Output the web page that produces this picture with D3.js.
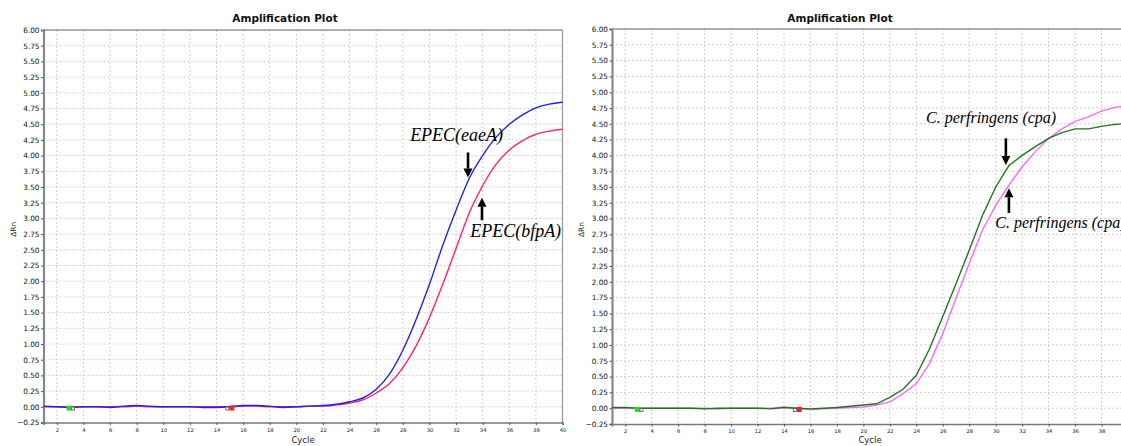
<!DOCTYPE html>
<html>
<head>
<meta charset="utf-8">
<script src="https://cdn.jsdelivr.net/npm/d3@7"></script>
<style>
  body { margin: 0; background: #fff; }
  svg { display: block; }
  .tick text { font-family: "DejaVu Sans", sans-serif; fill: #111; }
</style>
</head>
<body>
<script>
// cycles 1..40
const cycles = d3.range(1, 41)
const yTicks = d3.range(-0.25, 6.001, 0.25)
const xTicks = d3.range(2, 41, 2)

// left plot: EPEC
const eaeA = [0.01, 0.00, -0.01, 0.00, 0.00, -0.01, 0.01, 0.02, 0.01, 0.00,
  0.00, 0.00, -0.01, -0.01, 0.00, 0.02, 0.02, 0.01, -0.01, 0.00,
  0.01, 0.02, 0.04, 0.08, 0.14, 0.28, 0.52, 0.90, 1.39, 1.95,
  2.57, 3.13, 3.64, 4.00, 4.29, 4.50, 4.65, 4.76, 4.82, 4.85]
const bfpA = [0.00, 0.00, 0.00, 0.00, 0.00, 0.00, 0.00, 0.01, 0.00, 0.00,
  0.00, 0.00, 0.00, 0.00, 0.00, 0.01, 0.01, 0.00, 0.00, 0.00,
  0.01, 0.01, 0.03, 0.06, 0.11, 0.22, 0.37, 0.62, 0.97, 1.42,
  1.95, 2.52, 3.09, 3.52, 3.86, 4.09, 4.24, 4.34, 4.39, 4.42]

// right plot: C. perfringens
const cpaA = [0.01, 0.01, 0.00, 0.00, 0.00, 0.00, 0.00, -0.01, 0.00, 0.00,
  0.00, 0.00, -0.01, 0.01, 0.00, -0.01, 0.00, 0.01, 0.03, 0.05,
  0.07, 0.17, 0.30, 0.52, 0.94, 1.45, 1.97, 2.50, 3.05, 3.50,
  3.84, 4.00, 4.14, 4.27, 4.36, 4.42, 4.42, 4.46, 4.49, 4.51]
const cpaB = [0.00, 0.00, 0.00, 0.00, 0.00, 0.00, 0.00, 0.00, -0.01, 0.00,
  0.00, 0.00, 0.00, 0.02, 0.00, -0.02, -0.01, 0.00, 0.01, 0.02,
  0.05, 0.10, 0.23, 0.39, 0.71, 1.18, 1.74, 2.29, 2.82, 3.21,
  3.53, 3.82, 4.06, 4.27, 4.42, 4.54, 4.61, 4.70, 4.76, 4.78]

// baseline start / end cycles
const baseline = [3, 15]

const W = 1121, H = 446

const svg = d3.select("body").append("svg")
  .attr("width", W)
  .attr("height", H)

function arrow(g, x, y0, y1) {
  // y1 = tip
  const dir = y1 > y0 ? 1 : -1
  const head = 9
  g.append("line")
    .attr("x1", x).attr("x2", x)
    .attr("y1", y0).attr("y2", y1 - dir * head)
    .attr("stroke", "#000")
    .attr("stroke-width", 2.6)
  g.append("path")
    .attr("d", `M${x - 4.5},${y1 - dir * head} L${x + 4.5},${y1 - dir * head} L${x},${y1} Z`)
    .attr("fill", "#000")
}

function drawPanel(p) {
  const g = svg.append("g")
  const x = d3.scaleLinear().domain([1, 40]).range([p.left, p.right])
  const y = d3.scaleLinear().domain([-0.25, 6]).range([p.bottom, p.top])

  // grid
  g.append("g")
    .selectAll("line.gy")
    .data(yTicks.slice(1))
    .join("line")
    .attr("x1", p.left).attr("x2", p.right)
    .attr("y1", d => y(d)).attr("y2", d => y(d))
    .attr("stroke", "#cfcfcf")
    .attr("stroke-dasharray", "2,2")
  g.append("g")
    .selectAll("line.gx")
    .data(xTicks)
    .join("line")
    .attr("x1", d => x(d)).attr("x2", d => x(d))
    .attr("y1", p.top).attr("y2", p.bottom)
    .attr("stroke", "#cfcfcf")
    .attr("stroke-dasharray", "2,2")

  // frame
  g.append("line")
    .attr("x1", p.left).attr("x2", p.right)
    .attr("y1", p.top).attr("y2", p.top)
    .attr("stroke", "#999").attr("stroke-width", 1.3)
  g.append("line")
    .attr("x1", p.right).attr("x2", p.right)
    .attr("y1", p.top).attr("y2", p.bottom)
    .attr("stroke", "#999").attr("stroke-width", 1.3)

  // axes
  const ya = g.append("g")
    .attr("transform", `translate(${p.left},0)`)
    .call(d3.axisLeft(y).tickValues(yTicks).tickFormat(d3.format(".2f")).tickSize(2.5).tickPadding(1.5))
  ya.select(".domain").attr("stroke", "#888").attr("stroke-width", 2.2)
  ya.selectAll(".tick line").attr("stroke", "#555")
  ya.selectAll(".tick text").attr("font-size", 7.3)

  const xa = g.append("g")
    .attr("transform", `translate(0,${p.bottom})`)
    .call(d3.axisBottom(x).tickValues(xTicks).tickSize(2.5).tickPadding(3))
  xa.select(".domain").attr("stroke", "#777").attr("stroke-width", 1.6)
  xa.selectAll(".tick line").attr("stroke", "#555")
  xa.selectAll(".tick text").attr("font-size", 5.2)

  // labels
  g.append("text")
    .attr("x", p.titleX).attr("y", 22)
    .attr("text-anchor", "middle")
    .attr("font-family", "DejaVu Sans, sans-serif")
    .attr("font-weight", "bold")
    .attr("font-size", 10.5)
    .attr("fill", "#111")
    .text("Amplification Plot")
  g.append("text")
    .attr("x", (p.left + p.right) / 2).attr("y", 443)
    .attr("text-anchor", "middle")
    .attr("font-family", "DejaVu Sans, sans-serif")
    .attr("font-size", 8.5)
    .attr("fill", "#222")
    .text("Cycle")
  g.append("text")
    .attr("transform", `translate(${p.left - 28},${(p.top + p.bottom) / 2 + 3}) rotate(-90)`)
    .attr("text-anchor", "middle")
    .attr("font-family", "DejaVu Sans, sans-serif")
    .attr("font-size", 7.5)
    .attr("fill", "#222")
    .text("ΔRn")

  // curves
  const line = d3.line()
    .x((d, i) => x(cycles[i]))
    .y(d => y(d))
    .curve(p.curve)
  p.series.forEach(s => {
    g.append("path")
      .datum(s.values)
      .attr("fill", "none")
      .attr("stroke", s.color)
      .attr("stroke-width", 1.4)
      .attr("d", line)
  })

  // baseline markers
  const my = y(-0.02)
  g.append("rect")
    .attr("x", x(baseline[0]) - 3.5).attr("y", my - 2.5)
    .attr("width", 5).attr("height", 5)
    .attr("fill", "#22dd22")
  g.append("rect")
    .attr("x", x(baseline[0]) + 1.5).attr("y", my - 1)
    .attr("width", 3).attr("height", 3)
    .attr("fill", "#fff").attr("stroke", "#555").attr("stroke-width", 0.8)
  g.append("rect")
    .attr("x", x(baseline[1]) - 0.5).attr("y", my - 2.5)
    .attr("width", 5).attr("height", 5)
    .attr("fill", "#ee2222")
  g.append("rect")
    .attr("x", x(baseline[1]) - 4).attr("y", my - 1)
    .attr("width", 3).attr("height", 3)
    .attr("fill", "#fff").attr("stroke", "#555").attr("stroke-width", 0.8)

  // notes
  p.notes.forEach(n => {
    g.append("text")
      .attr("x", x(n.c)).attr("y", y(n.v))
      .attr("font-family", "Liberation Serif, Times New Roman, serif")
      .attr("font-style", "italic")
      .attr("font-size", p.noteSize)
      .attr("fill", "#000")
      .text(n.text)
  })
  p.arrows.forEach(a => arrow(g, x(a.c), y(a.from), y(a.to)))
}

drawPanel({
  left: 43.5, right: 562.5, top: 30, bottom: 422.5, titleX: 285,
  curve: d3.curveMonotoneX,
  noteSize: 18,
  series: [
    { values: bfpA, color: "#ff2270" },
    { values: eaeA, color: "#2020f0" }
  ],
  notes: [
    { text: "EPEC(eaeA)", c: 28.55, v: 4.24 },
    { text: "EPEC(bfpA)", c: 33.06, v: 2.70 }
  ],
  arrows: [
    { c: 32.9, from: 4.05, to: 3.65 },
    { c: 33.95, from: 2.97, to: 3.33 }
  ]
})

drawPanel({
  left: 612, right: 1128, top: 29, bottom: 424, titleX: 840,
  curve: d3.curveLinear,
  noteSize: 16,
  series: [
    { values: cpaB, color: "#ff66ff" },
    { values: cpaA, color: "#1c7a1c" }
  ],
  notes: [
    { text: "C. perfringens (cpa)", c: 24.73, v: 4.51 },
    { text: "C. perfringens (cpa)", c: 29.97, v: 2.85 }
  ],
  arrows: [
    { c: 30.77, from: 4.27, to: 3.85 },
    { c: 31.0, from: 3.09, to: 3.48 }
  ]
})
</script>
</body>
</html>
